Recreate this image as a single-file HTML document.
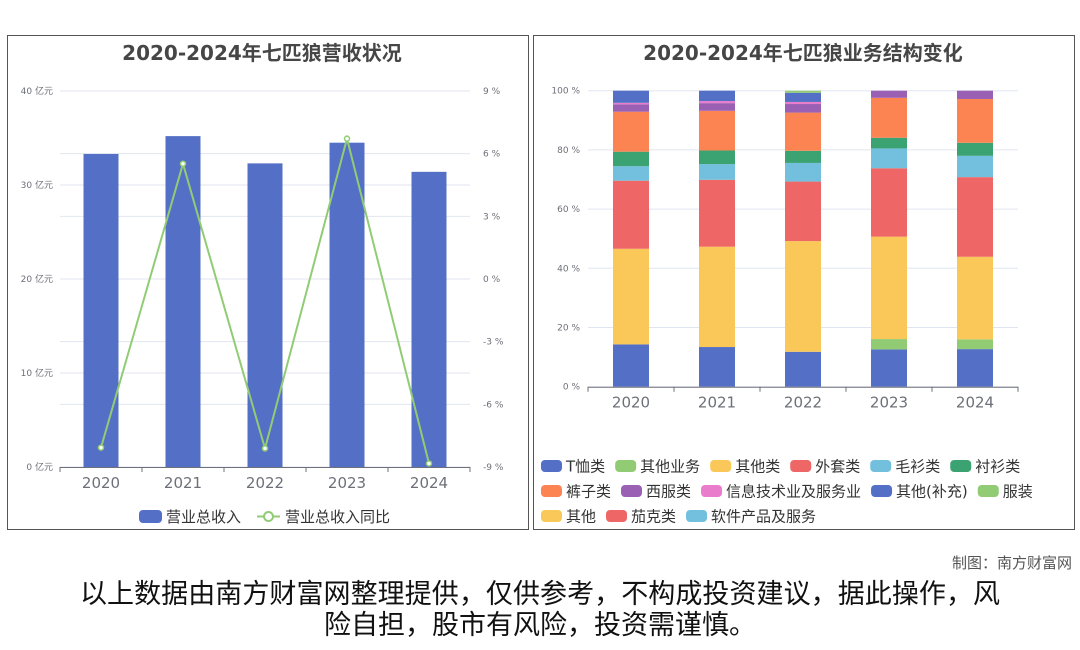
<!DOCTYPE html>
<html><head><meta charset="utf-8">
<style>
html,body{margin:0;padding:0;background:#fff;}
body{width:1080px;height:646px;overflow:hidden;font-family:"DejaVu Sans","Noto Sans CJK SC",sans-serif;}
svg text{font-family:"DejaVu Sans","Noto Sans CJK SC",sans-serif;}
</style></head>
<body>
<svg id="root" width="1080" height="646" viewBox="0 0 1080 646">
  <rect x="7.5" y="35.5" width="521" height="494" fill="#fff" stroke="#555" stroke-width="1"/>
  <rect x="533.5" y="35.5" width="541" height="494" fill="#fff" stroke="#555" stroke-width="1"/>
  <text x="262" y="60" text-anchor="middle" font-size="20" font-weight="bold" fill="#464646">2020-2024年七匹狼营收状况</text>
  <text x="803" y="60" text-anchor="middle" font-size="20" font-weight="bold" fill="#464646">2020-2024年七匹狼业务结构变化</text>
  <g id="left"></g>
  <g id="right"></g>
  <g id="legendL">
    <rect x="139" y="510" width="23" height="13" rx="4" fill="#5470c6"/>
    <text x="166" y="522" font-size="15" fill="#333">营业总收入</text>
    <line x1="257" y1="516.5" x2="280" y2="516.5" stroke="#91cc75" stroke-width="2"/>
    <circle cx="268.5" cy="516.5" r="4.5" fill="#fff" stroke="#91cc75" stroke-width="2"/>
    <text x="285" y="522" font-size="15" fill="#333">营业总收入同比</text>
  </g>
  <g id="legendR"></g>
  <text x="1072" y="568" text-anchor="end" font-size="15" fill="#555">制图：南方财富网</text>
  <text x="540" y="603" text-anchor="middle" font-size="27" textLength="920" fill="#111">以上数据由南方财富网整理提供，仅供参考，不构成投资建议，据此操作，风</text>
  <text x="540" y="634" text-anchor="middle" font-size="27" fill="#111">险自担，股市有风险，投资需谨慎。</text>
</svg>
<script>
const years = ["2020","2021","2022","2023","2024"];
const revenue = [33.3, 35.2, 32.3, 34.5, 31.4];
const growth = [-8.07, 5.52, -8.11, 6.72, -8.83];
const revTicks = [0,10,20,30,40];
const growthTicks = [-9,-6,-3,0,3,6,9];

const seriesNames = ["T恤类","其他业务","其他类","外套类","毛衫类","衬衫类","裤子类","西服类","信息技术业及服务业","其他(补充)","服装","其他","茄克类","软件产品及服务"];
const seriesColors = ["#5470c6","#91cc75","#fac858","#ee6666","#73c0de","#3ba272","#fc8452","#9a60b4","#ea7ccc","#5470c6","#91cc75","#fac858","#ee6666","#73c0de"];
const sTshirt = [14.3, 13.4, 11.8, 12.6, 12.7];
const sOtherBiz = [0, 0, 0, 3.5, 3.3];
const sOtherCat = [32.3, 33.9, 37.4, 34.6, 27.9];
const sCoat = [23.0, 22.6, 20.1, 23.1, 26.9];
const sSweater = [4.9, 5.3, 6.3, 6.7, 7.2];
const sShirt = [4.9, 4.6, 4.1, 3.6, 4.4];
const sPants = [13.5, 13.4, 12.9, 13.5, 14.8];
const sSuit = [2.5, 2.6, 2.9, 2.4, 2.8];
const sIT = [0.5, 0.7, 0.7, 0, 0];
const sOtherSupp = [4.1, 3.5, 3.1, 0, 0];
const sApparel = [0, 0, 0.7, 0, 0];
const sOther = [0, 0, 0, 0, 0];
const sJacket = [0, 0, 0, 0, 0];
const sSoftware = [0, 0, 0, 0, 0];
const pctTicks = [0,20,40,60,80,100];

const NS = "http://www.w3.org/2000/svg";
function mk(tag, attrs, parent){const e=document.createElementNS(NS,tag);for(const k in attrs)e.setAttribute(k,attrs[k]);parent.appendChild(e);return e;}

// ---- Left chart ----
const L = document.getElementById('left');
const lx0=60, lx1=470, ly0=467, ly1=91;
const band=(lx1-lx0)/years.length;
const xL=i=>lx0+band*(i+0.5);
const yRev=v=>ly0-(v-0)/(40-0)*(ly0-ly1);
const yG=v=>ly0-(v+9)/18*(ly0-ly1);
growthTicks.forEach(t=>{
  const y=yG(t);
  const g=mk('line',{x1:lx0,x2:lx1,y1:y,y2:y,stroke:'#e0e6f1','stroke-width':1},L);
  
  
  const tx=mk('text',{x:483,y:y+3,'font-size':9,fill:'#6e7079'},L);
  tx.textContent=t+' %';
  
  
});
revTicks.forEach(t=>{
  const y=yRev(t);
  const g=mk('line',{x1:lx0,x2:lx1,y1:y,y2:y,stroke:'#e0e6f1','stroke-width':1},L);
  
  
  const tx=mk('text',{x:53,y:y+3,'font-size':9,fill:'#6e7079','text-anchor':'end'},L);
  tx.textContent=t+' 亿元';
  
  
});
revenue.forEach((v,i)=>{
  const r=mk('rect',{x:xL(i)-17.5,y:yRev(v),width:35,height:ly0-yRev(v),fill:'#5470c6'},L);
  
  
});
let ax=mk('line',{x1:lx0,x2:lx1,y1:ly0+0.5,y2:ly0+0.5,stroke:'#6e7079'},L);


years.forEach((yr,i)=>{
  const tk=mk('line',{x1:lx0+band*i,x2:lx0+band*i,y1:ly0,y2:ly0+5,stroke:'#6e7079'},L);
  
  
  const t=mk('text',{x:xL(i),y:ly0+21,'font-size':15,fill:'#6e7079','text-anchor':'middle'},L);
  t.textContent=yr;
  
  
});
const tk5=mk('line',{x1:lx1,x2:lx1,y1:ly0,y2:ly0+5,stroke:'#6e7079'},L);


const pl=mk('polyline',{points:growth.map((v,i)=>xL(i)+','+yG(v)).join(' '),fill:'none',stroke:'#91cc75','stroke-width':2},L);


growth.forEach((v,i)=>{
  const c=mk('circle',{cx:xL(i),cy:yG(v),r:2.5,fill:'#fff',stroke:'#91cc75','stroke-width':1.5},L);
  
  
});

// ---- Right chart ----
const R=document.getElementById('right');
const rx0=588, rx1=1018, ry0=386.7, ry1=90.7;
const rb=(rx1-rx0)/years.length;
const xR=i=>rx0+rb*(i+0.5);
const yP=v=>ry0-v/100*(ry0-ry1);
pctTicks.forEach(t=>{
  const y=yP(t);
  const g=mk('line',{x1:rx0,x2:rx1,y1:y,y2:y,stroke:'#e0e6f1'},R);
  
  
  const tx=mk('text',{x:580,y:y+3,'font-size':9,fill:'#6e7079','text-anchor':'end'},R);
  tx.textContent=t+' %';
  
  
});
const allSeries=[sTshirt,sOtherBiz,sOtherCat,sCoat,sSweater,sShirt,sPants,sSuit,sIT,sOtherSupp,sApparel,sOther,sJacket,sSoftware];
years.forEach((yr,i)=>{
  let acc=0;
  allSeries.forEach((s,k)=>{
    const v=s[i]; if(!v) return;
    const r=mk('rect',{x:xR(i)-18,y:yP(acc+v),width:36,height:yP(acc)-yP(acc+v),fill:seriesColors[k]},R);
    
    
    acc+=v;
  });
});
ax=mk('line',{x1:rx0,x2:rx1,y1:ry0+0.5,y2:ry0+0.5,stroke:'#6e7079'},R);


for(let i=0;i<=years.length;i++){
  const tk=mk('line',{x1:rx0+rb*i,x2:rx0+rb*i,y1:ry0,y2:ry0+5,stroke:'#6e7079'},R);
  
  
}
years.forEach((yr,i)=>{
  const t=mk('text',{x:xR(i),y:ry0+21,'font-size':15,fill:'#6e7079','text-anchor':'middle'},R);
  t.textContent=yr;
  
  
});

// ---- Right legend ----
const LG=document.getElementById('legendR');
const rows=[[0,1,2,3,4,5],[6,7,8,9,10],[11,12,13]];
const rowY=[466,491,516];
rows.forEach((row,ri)=>{
  let x=541;
  row.forEach(k=>{
    const sw=mk('rect',{x:x,y:rowY[ri]-6,width:21,height:12,rx:4,fill:seriesColors[k]},LG);
    
    
    const t=mk('text',{x:x+25,y:rowY[ri]+5.5,'font-size':15,fill:'#333'},LG);
    t.textContent=seriesNames[k];
    
    
    x+=25+t.getComputedTextLength()+10;
  });
});
</script>
</body></html>
